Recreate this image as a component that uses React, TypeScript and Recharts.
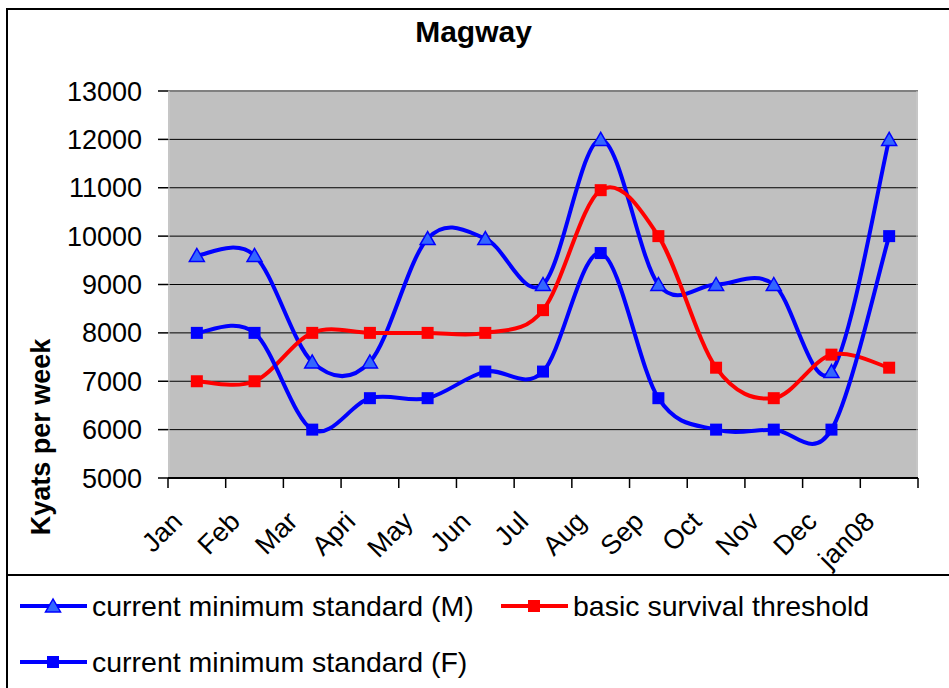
import React from 'react'
import { LineChart, Line, XAxis, YAxis, CartesianGrid } from 'recharts'

const months = ['Jan', 'Feb', 'Mar', 'Apri', 'May', 'Jun', 'Jul', 'Aug', 'Sep', 'Oct', 'Nov', 'Dec', 'jan08']
const minM = [9600, 9600, 7400, 7400, 9950, 9950, 9000, 12000, 9000, 9000, 9000, 7200, 12000]
const survival = [7000, 7000, 8000, 8000, 8000, 8000, 8470, 10950, 10000, 7280, 6650, 7550, 7280]
const minF = [8000, 8000, 6000, 6650, 6650, 7200, 7200, 9650, 6650, 6000, 6000, 6000, 10000]
const yTicks = [5000, 6000, 7000, 8000, 9000, 10000, 11000, 12000, 13000]

const data = months.map((m, i) => ({
  month: m,
  minM: minM[i],
  survival: survival[i],
  minF: minF[i],
}))

const FONT = '"Liberation Sans", Arial, Helvetica, sans-serif'
const CHART_W = 949
const CHART_H = 575
const PLOT_TOP = 91
const PLOT_LEFT = 168
const PLOT_RIGHT = 918
const HALF_BAND = (PLOT_RIGHT - PLOT_LEFT) / months.length / 2

const BLUE = '#0000ff'
const RED = '#ff0000'
const TRI_FILL = '#3366ff'
const BORDER = '#808080'

// Excel-style smoothed line (Catmull-Rom as cubic beziers)
const excelSmooth = (context: any) => {
  let pts: number[][] = []
  return {
    areaStart() {},
    areaEnd() {},
    lineStart() {
      pts = []
    },
    point(x: number, y: number) {
      pts.push([+x, +y])
    },
    lineEnd() {
      const n = pts.length
      if (!n) return
      context.moveTo(pts[0][0], pts[0][1])
      for (let i = 0; i < n - 1; i++) {
        const p0 = pts[i - 1] || pts[i]
        const p1 = pts[i]
        const p2 = pts[i + 1]
        const p3 = pts[i + 2] || p2
        context.bezierCurveTo(
          p1[0] + (p2[0] - p0[0]) / 6,
          p1[1] + (p2[1] - p0[1]) / 6,
          p2[0] - (p3[0] - p1[0]) / 6,
          p2[1] - (p3[1] - p1[1]) / 6,
          p2[0],
          p2[1]
        )
      }
    },
  }
}

// top grid line doubles as the plot border, so it's grey like the sides
const hLine = (props: any) => {
  const { x1, x2, y1, y2, key } = props
  const top = Math.abs(y1 - PLOT_TOP) < 1.5
  return <line key={key} x1={x1} x2={x2} y1={y1} y2={y2} stroke={top ? BORDER : '#000'} strokeWidth={top ? 2 : 1} />
}

const TriangleDot = (props: any) => {
  const { cx, cy } = props
  if (cx == null || cy == null) return null
  return (
    <polygon
      points={`${cx},${cy - 7} ${cx - 7.5},${cy + 6} ${cx + 7.5},${cy + 6}`}
      fill={TRI_FILL}
      stroke={BLUE}
      strokeWidth={1.5}
    />
  )
}

const squareDot = (color: string) => (props: any) => {
  const { cx, cy } = props
  if (cx == null || cy == null) return null
  return <rect x={cx - 6} y={cy - 6} width={12} height={12} fill={color} />
}

const MonthTick = (props: any) => {
  const { x, y, payload } = props
  const last = payload.value === months[months.length - 1]
  const tx = x - 13
  const ty = y + 45
  return (
    <g>
      <line x1={x - HALF_BAND} x2={x - HALF_BAND} y1={y} y2={y + 10} stroke="#000" strokeWidth={1.5} />
      {last && <line x1={x + HALF_BAND} x2={x + HALF_BAND} y1={y} y2={y + 10} stroke="#000" strokeWidth={1.5} />}
      <text
        x={tx}
        y={ty}
        transform={`rotate(-45 ${tx} ${ty})`}
        textAnchor="end"
        fontSize={27}
        fontFamily={FONT}
        fill="#000"
      >
        {payload.value}
      </text>
    </g>
  )
}

const LegendMarker = ({ color, shape }: { color: string; shape: 'triangle' | 'square' }) => (
  <svg width={70} height={20} style={{ display: 'block' }}>
    <line x1={2} x2={69} y1={10} y2={10} stroke={color} strokeWidth={4} />
    {shape === 'triangle' ? (
      <polygon points="35,3 27.5,16 42.5,16" fill={TRI_FILL} stroke={BLUE} strokeWidth={1.5} />
    ) : (
      <rect x={29} y={4} width={12} height={12} fill={color} />
    )}
  </svg>
)

const legendItems = [
  { label: 'current minimum standard (M)', color: BLUE, shape: 'triangle' as const, left: 18, top: 606 },
  { label: 'basic survival threshold', color: RED, shape: 'square' as const, left: 499, top: 606 },
  { label: 'current minimum standard (F)', color: BLUE, shape: 'square' as const, left: 18, top: 662 },
]

export default function App() {
  return (
    <div
      style={{
        position: 'absolute',
        left: 0,
        top: 0,
        width: 949,
        height: 688,
        overflow: 'hidden',
        background: '#fff',
        fontFamily: FONT,
      }}
    >
      {/* outer frame and legend separator */}
      <div
        style={{
          position: 'absolute',
          left: 6,
          top: 8,
          width: 1000,
          height: 1000,
          border: '2px solid #000',
          boxSizing: 'border-box',
        }}
      />
      <div style={{ position: 'absolute', left: 6, top: 574, width: 1000, height: 2, background: '#000' }} />

      <div
        style={{
          position: 'absolute',
          left: 0,
          top: 17,
          width: 947,
          textAlign: 'center',
          fontSize: 30,
          lineHeight: '30px',
          fontWeight: 'bold',
        }}
      >
        Magway
      </div>

      <div
        style={{
          position: 'absolute',
          left: 41,
          top: 437,
          transform: 'translate(-50%, -50%) rotate(-90deg)',
          whiteSpace: 'nowrap',
          fontSize: 27,
          fontWeight: 'bold',
        }}
      >
        Kyats per week
      </div>

      <div style={{ position: 'absolute', left: 0, top: 0 }}>
        <LineChart width={CHART_W} height={CHART_H} data={data} margin={{ top: PLOT_TOP, right: CHART_W - PLOT_RIGHT, left: 0, bottom: 37 }}>
          <CartesianGrid
            fill="#c0c0c0"
            fillOpacity={1}
            horizontal={hLine}
            vertical={{ stroke: BORDER, strokeWidth: 2 }}
            verticalPoints={[PLOT_LEFT + 1, PLOT_RIGHT - 1]}
          />
          <XAxis
            dataKey="month"
            interval={0}
            height={60}
            padding={{ left: HALF_BAND, right: HALF_BAND }}
            tickLine={false}
            tickSize={0}
            tickMargin={0}
            axisLine={{ stroke: '#000', strokeWidth: 2 }}
            tick={<MonthTick />}
          />
          <YAxis
            width={PLOT_LEFT}
            domain={[5000, 13000]}
            ticks={yTicks}
            interval={0}
            tickSize={10}
            tickMargin={16}
            axisLine={false}
            tickLine={{ stroke: '#000', strokeWidth: 1.5 }}
            tick={{ fontSize: 27, fill: '#000', fontFamily: FONT }}
          />
          <Line
            dataKey="minM"
            name="current minimum standard (M)"
            type={excelSmooth as any}
            stroke={BLUE}
            strokeWidth={4}
            dot={TriangleDot}
            isAnimationActive={false}
          />
          <Line
            dataKey="survival"
            name="basic survival threshold"
            type={excelSmooth as any}
            stroke={RED}
            strokeWidth={4}
            dot={squareDot(RED)}
            isAnimationActive={false}
          />
          <Line
            dataKey="minF"
            name="current minimum standard (F)"
            type={excelSmooth as any}
            stroke={BLUE}
            strokeWidth={4}
            dot={squareDot(BLUE)}
            isAnimationActive={false}
          />
        </LineChart>
      </div>

      {legendItems.map((item) => (
        <div
          key={item.label}
          style={{
            position: 'absolute',
            left: item.left,
            top: item.top - 15,
            height: 30,
            display: 'flex',
            alignItems: 'center',
            whiteSpace: 'nowrap',
          }}
        >
          <LegendMarker color={item.color} shape={item.shape} />
          <span style={{ marginLeft: 4, fontSize: 28.5, lineHeight: '30px' }}>{item.label}</span>
        </div>
      ))}
    </div>
  )
}
